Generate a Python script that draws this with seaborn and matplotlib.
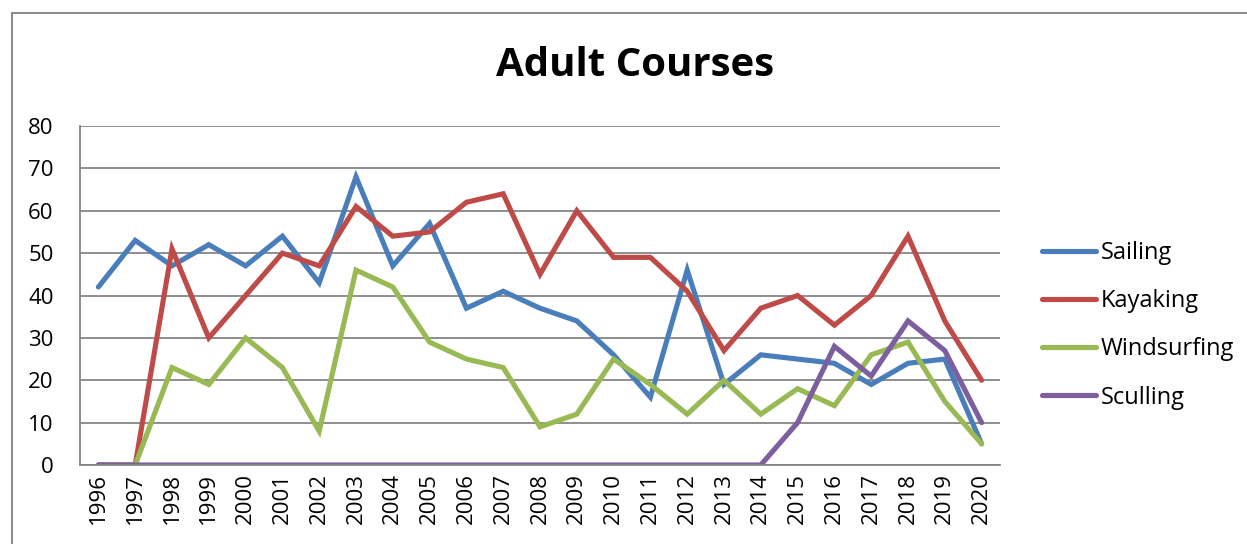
import matplotlib
matplotlib.use("Agg")
import matplotlib.pyplot as plt
import seaborn as sns
import pandas as pd
from matplotlib.patches import Rectangle

years = list(range(1996, 2021))
sailing = [42, 53, 47, 52, 47, 54, 43, 68, 47, 57, 37, 41, 37, 34, 26, 16, 46, 19, 26, 25, 24, 19, 24, 25, 5]
kayaking = [0, 0, 51, 30, 40, 50, 47, 61, 54, 55, 62, 64, 45, 60, 49, 49, 41, 27, 37, 40, 33, 40, 54, 34, 20]
windsurfing = [0, 0, 23, 19, 30, 23, 8, 46, 42, 29, 25, 23, 9, 12, 25, 19, 12, 20, 12, 18, 14, 26, 29, 15, 5]
sculling = [0, 0, 0, 0, 0, 0, 0, 0, 0, 0, 0, 0, 0, 0, 0, 0, 0, 0, 0, 10, 28, 21, 34, 27, 10]
series_names = ["Sailing", "Kayaking", "Windsurfing", "Sculling"]
colors = ["#4A7EBB", "#BE4B48", "#98B954", "#7D5FA0"]

rows = []
for name, vals in zip(series_names, [sailing, kayaking, windsurfing, sculling]):
    for y, v in zip(years, vals):
        rows.append({"Year": y, "Value": v, "Series": name})
df = pd.DataFrame(rows)

sns.set_theme(style="white")
plt.rcParams['font.family'] = ['Open Sans', 'DejaVu Sans']
plt.rcParams['text.color'] = 'black'
plt.rcParams['xtick.color'] = 'black'
plt.rcParams['ytick.color'] = 'black'

fig = plt.figure(figsize=(12.47, 5.44), dpi=100)
ax = fig.add_axes([80/1247, 1-465/544, 920/1247, (465-126)/544])

sns.lineplot(data=df, x="Year", y="Value", hue="Series", hue_order=series_names,
             palette=colors, linewidth=3.7, ax=ax, solid_capstyle="round",
             solid_joinstyle="miter")

ax.set_xlim(1995.5, 2020.5)
ax.set_ylim(0, 80)
ax.set_yticks(range(0, 81, 10))
ax.set_xticks(years)
ax.set_xticklabels([str(y) for y in years], rotation=90, fontsize=16)
ax.tick_params(axis='y', labelsize=16, length=0, pad=19, labelcolor="black")
ax.tick_params(axis='x', length=0, pad=6, labelcolor="black")
ax.set_xlabel("")
ax.set_ylabel("")
ax.yaxis.grid(True, color="#868686", linewidth=1.3)
ax.xaxis.grid(False)
for s in ["top", "right"]:
    ax.spines[s].set_visible(False)
for s in ["left", "bottom"]:
    ax.spines[s].set_color("#868686")
    ax.spines[s].set_linewidth(1.3)

leg = ax.legend(loc="upper left", bbox_to_anchor=(1021/1247, 1-220/544),
                bbox_transform=fig.transFigure, frameon=False, fontsize=17,
                handlelength=2.29, handletextpad=0.2, labelspacing=1.02)
for line in leg.get_lines():
    line.set_linewidth(3.7)
    line.set_solid_capstyle("round")
for t in leg.get_texts():
    t.set_color("black")

fig.text(635/1247, 1-65/544, "Adult Courses", ha="center", va="center",
         fontsize=29, fontweight="bold", color="black")

fig.patches.append(Rectangle((12/1247, -0.2), 1.5, 1.2 - 13/544,
                             transform=fig.transFigure, fill=False,
                             edgecolor="#8c8c8c", linewidth=1.5))

fig.savefig("out.png", dpi=100)
